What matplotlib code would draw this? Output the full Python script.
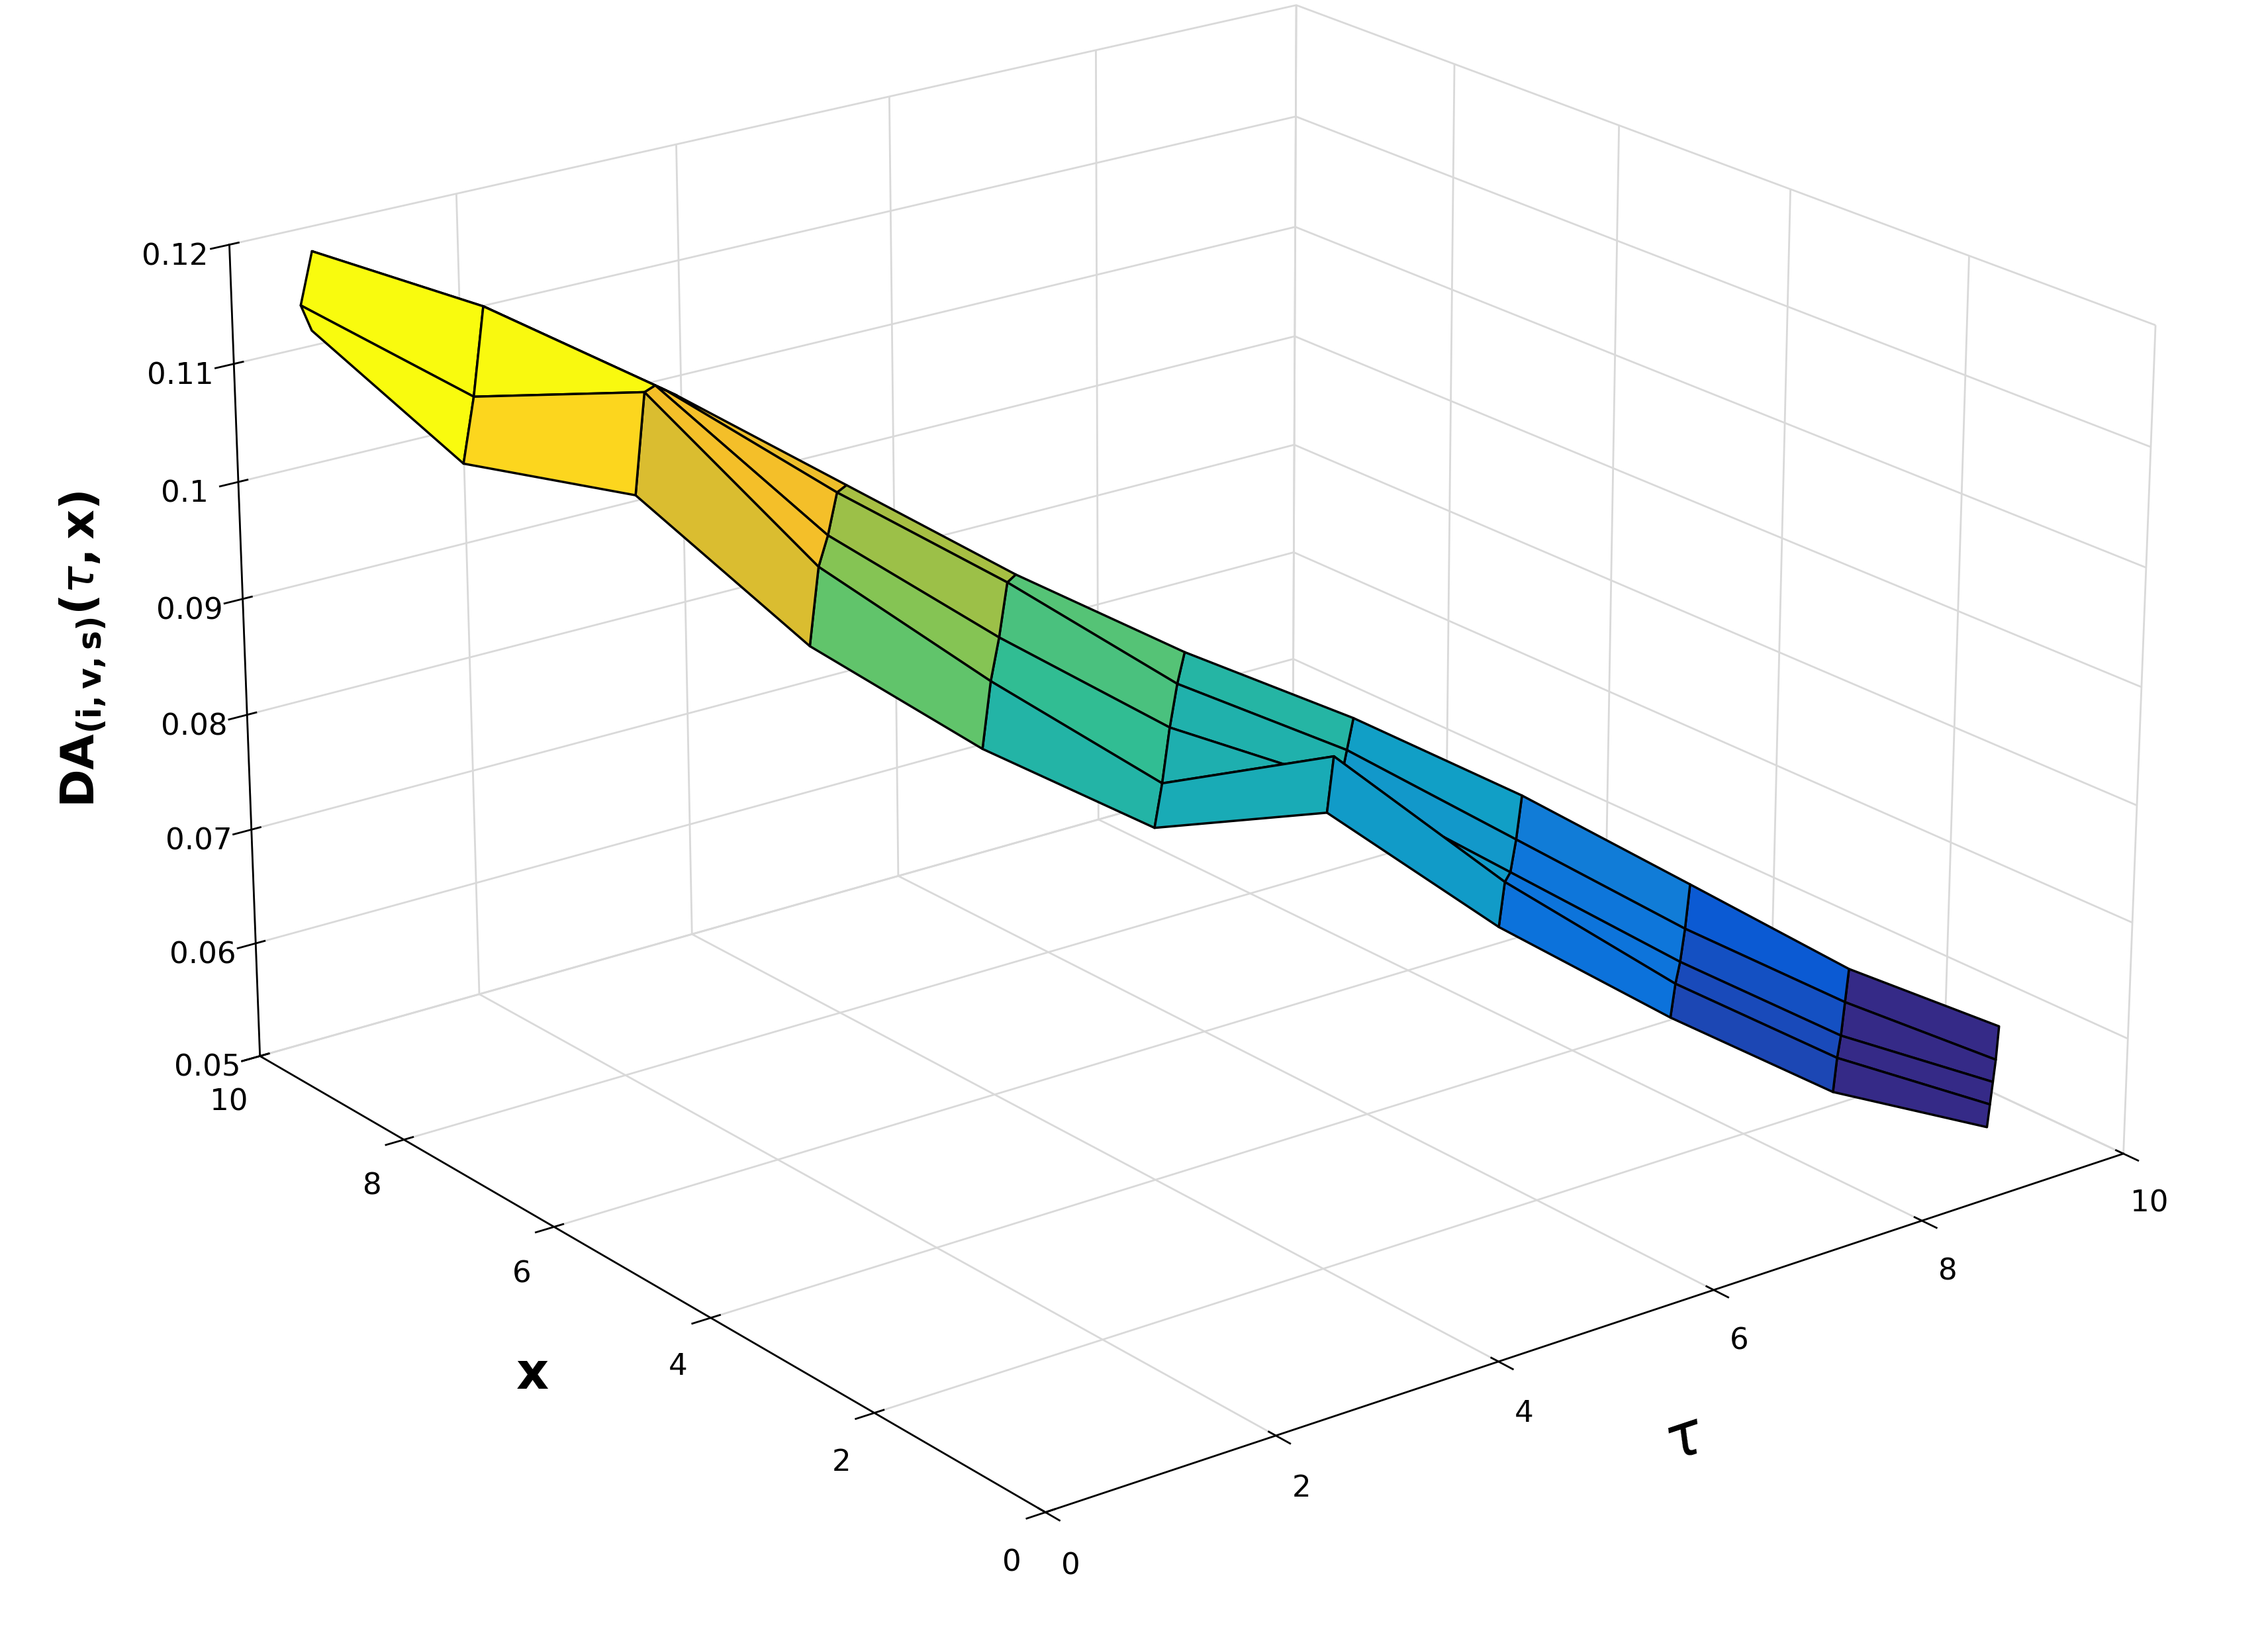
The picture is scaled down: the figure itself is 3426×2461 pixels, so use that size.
import numpy as np
import matplotlib
matplotlib.use("Agg")
import matplotlib.pyplot as plt
from matplotlib.colors import LinearSegmentedColormap

# strip grid: rows along tau, columns across the ridge (back -> front)
tau_rows = [0.4, 1.3, 2.2, 3.1, 4.0, 4.9, 5.8, 6.7, 7.6, 8.5, 9.4]
tau_offsets = [0.6, 0.3, 0.0, -0.3, -0.6]
x_rows = [9.5, 8.6, 7.7, 6.8, 5.9, 5.0, 4.1, 3.2, 2.3, 1.5, 0.8]
x_offsets = [0.6, 0.3, 0.0, -0.3, -0.6]
Z = [
    [0.116, 0.118, 0.120, 0.117, 0.116],
    [0.112, 0.114, 0.116, 0.110, 0.106],
    [0.106, 0.108, 0.110, 0.111, 0.104],
    [0.099, 0.100, 0.098, 0.097, 0.092],
    [0.092, 0.093, 0.090, 0.088, 0.084],
    [0.086, 0.085, 0.083, 0.080, 0.078],
    [0.081, 0.080, 0.079, 0.083, 0.080],
    [0.075, 0.073, 0.072, 0.073, 0.071],
    [0.068, 0.066, 0.065, 0.065, 0.064],
    [0.061, 0.060, 0.059, 0.059, 0.058],
    [0.056, 0.055, 0.055, 0.055, 0.055],
]
xticks = [0, 2, 4, 6, 8, 10]
zticks = [0.05, 0.06, 0.07, 0.08, 0.09, 0.1, 0.11, 0.12]

T = np.add.outer(np.array(tau_rows), np.array(tau_offsets))
T = np.clip(T, 0, 10)
Xg = np.add.outer(np.array(x_rows), np.array(x_offsets))
Xg = np.clip(Xg, 0, 10)
Zg = np.array(Z)

parula = LinearSegmentedColormap.from_list("parula", [
    (0.2081, 0.1663, 0.5292), (0.0117, 0.3875, 0.8820), (0.0779, 0.5040, 0.8384),
    (0.0641, 0.6424, 0.7665), (0.1802, 0.7406, 0.5886), (0.4420, 0.7795, 0.3690),
    (0.7711, 0.7322, 0.2048), (0.9943, 0.7513, 0.1546), (0.9763, 0.9831, 0.0538)])

fig = plt.figure(figsize=(13.704, 9.844), dpi=250)
ax = fig.add_axes([-0.05, 0.015, 1.12, 1.08], projection='3d')
ax.set_box_aspect((4, 4, 2.6), zoom=1.16)
ax.plot_surface(T, Xg, Zg, cmap=parula, vmin=0.058, vmax=0.112,
                edgecolor='black', linewidth=1.0, shade=False, antialiased=True)
ax.view_init(elev=21, azim=-127.5)
ax.set_xlim(0, 10); ax.set_ylim(0, 10); ax.set_zlim(0.05, 0.12)
ax.set_xticks(xticks); ax.set_yticks(xticks); ax.set_zticks(zticks)
ax.set_xticklabels([str(v) for v in xticks]); ax.set_yticklabels([str(v) for v in xticks])
ax.set_zticklabels([f"{v:g}" for v in zticks])
for a in (ax.xaxis, ax.yaxis, ax.zaxis):
    a.set_pane_color((1, 1, 1, 1))
    a._axinfo['grid']['color'] = (0.85, 0.85, 0.85, 1)
    a._axinfo['grid']['linewidth'] = 0.8
    a.line.set_color('black')
ax.tick_params(labelsize=13)
ax.set_xlabel(r'$\tau$', fontsize=26, labelpad=14)
ax.set_ylabel('x', fontsize=22, fontweight='bold', labelpad=14)
ax.zaxis.set_rotate_label(False)
ax.set_zlabel(r'$\mathbf{DA_{(i,v,s)}(}\tau\mathbf{,x)}$', fontsize=20, labelpad=14, rotation=90)
fig.savefig("out.png", dpi=250)
